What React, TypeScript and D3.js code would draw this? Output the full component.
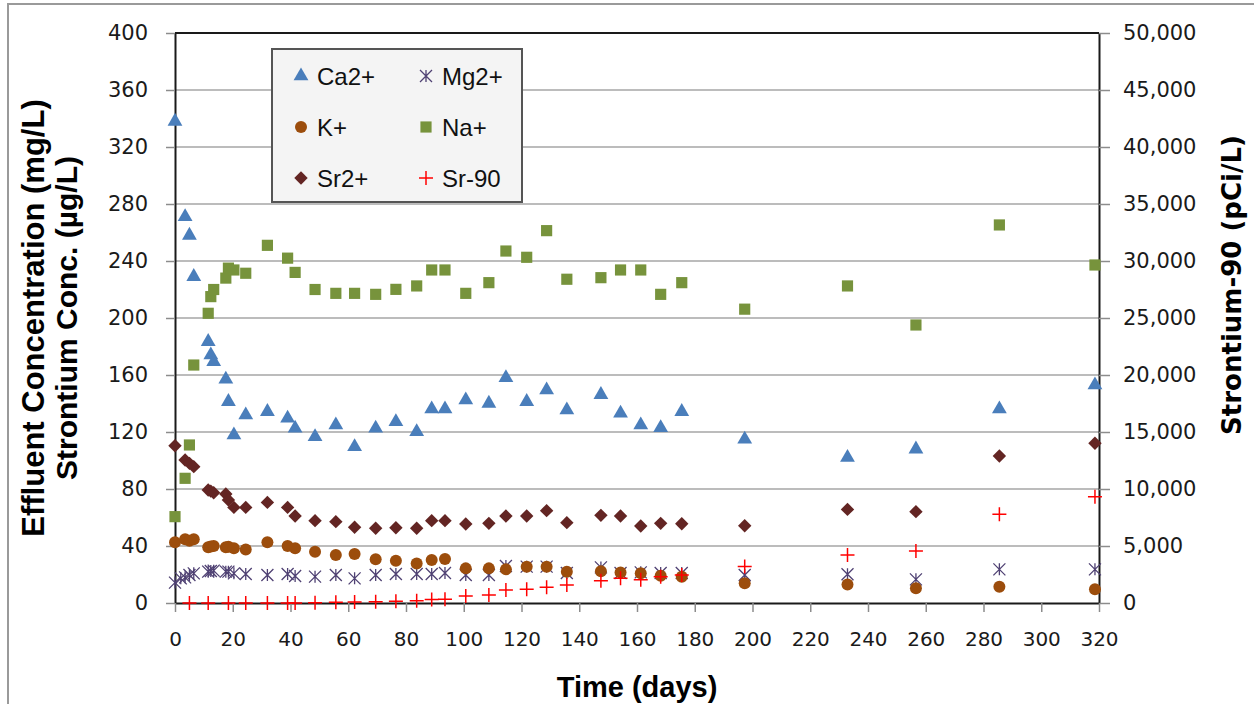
import React, { useEffect, useRef } from "react";
import * as d3 from "d3";

// sampling days (shared by every series)
const days = [0, 2, 3.5, 5, 6.5, 11.5, 12.4, 13.4, 17.6, 18.5, 20.4, 24.5, 32, 39, 41.6, 48.5, 55.7, 62.2, 69.5, 76.5, 83.7, 88.9, 93.5, 100.7, 108.7, 114.6, 121.8, 128.7, 135.7, 147.5, 154.3, 161.3, 168.2, 175.5, 197.3, 232.9, 256.6, 285.5, 318.6];

// mg/L (left axis)
const ca = [338, null, 271, 258, 229, 183.4, 174, 169.3, 157, 141.3, 117.9, 131.9, 134.3, 129.6, 122.6, 116.7, 124.9, 109.7, 122.6, 127.2, 120.2, 136.1, 136.1, 142.5, 140.1, 158.1, 141.3, 149.5, 135.4, 146.2, 133.1, 124.9, 123, 134.3, 114.9, 102.1, 108, 136.1, 153];
const mg = [14.3, 17.3, 18, 19.6, 20.8, 22, 22.4, 22.7, 22, 22, 20.8, 20.4, 19.6, 20.4, 19, 18.5, 19.6, 17.3, 19.6, 20.4, 20.4, 20.4, 21, 19.6, 19.6, 26, 25.5, 25.5, 21, 25, 21, 21.5, 21, 21, 19.6, 20.2, 16.6, 23.6, 23.6];
const k = [42.6, null, 44.7, 43.7, 44.7, 39.1, 39.6, 40, 39.1, 39.5, 38.4, 37.6, 42.6, 40, 38.4, 36, 33.7, 34.4, 30.7, 29.7, 27.8, 30.2, 30.9, 24.3, 24.3, 23.6, 25.5, 25.5, 22, 22.2, 21.4, 20.8, 19.2, 18.5, 13.8, 12.9, 10.3, 11.4, 9.6];
const na = [60.6, null, 87.5, 110.9, 167, 203.3, 215, 220, 228, 235, 233.7, 231.4, 251, 242, 232, 220, 217.3, 217.3, 216.6, 220.1, 222.5, 233.7, 233.7, 217.3, 224.8, 247, 242.6, 261.3, 227.2, 228.3, 233.7, 233.7, 216.6, 224.8, 206.2, 222.5, 195.1, 265.3, 237.2];
// µg/L (left axis)
const sr = [110.4, null, 100.4, 98, 95.7, 79.3, 78.5, 77.4, 76.5, 72.3, 67.1, 67.1, 70.6, 67.1, 61, 57.8, 57.1, 53.1, 52.4, 52.8, 52.4, 57.8, 57.8, 55.4, 55.9, 61, 61, 64.8, 56.4, 61.5, 61, 54, 55.9, 55.6, 54.2, 65.7, 64.1, 103.2, 112.1];
// pCi/L (right axis)
const sr90 = [null, null, null, 0, null, 0, null, null, null, 0, null, 0, 0, 0, 10, 20, 60, 90, 110, 150, 200, 300, 320, 620, 700, 1140, 1200, 1380, 1580, 1950, 2170, 2050, 2310, 2450, 3200, 4200, 4560, 7780, 9330];

const leftTicks = [0, 40, 80, 120, 160, 200, 240, 280, 320, 360, 400];
const rightTicks = [0, 5000, 10000, 15000, 20000, 25000, 30000, 35000, 40000, 45000, 50000];
const timeTicks = [0, 20, 40, 60, 80, 100, 120, 140, 160, 180, 200, 220, 240, 260, 280, 300, 320];

type Marker = "triangle" | "asterisk" | "circle" | "square" | "diamond" | "plus";
const series: { name: string; values: (number | null)[]; marker: Marker; color: string; right?: boolean }[] = [
    { name: "Ca2+", values: ca, marker: "triangle", color: "#4a7ebb" },
    { name: "Mg2+", values: mg, marker: "asterisk", color: "#4f4173" },
    { name: "K+", values: k, marker: "circle", color: "#9c4d0c" },
    { name: "Na+", values: na, marker: "square", color: "#77933c" },
    { name: "Sr2+", values: sr, marker: "diamond", color: "#632523" },
    { name: "Sr-90", values: sr90, marker: "plus", color: "#ff0000", right: true },
];

const NUM_FONT = "'DejaVu Sans', Verdana, sans-serif";
const TITLE_FONT = "'Liberation Sans', Arial, sans-serif";

function drawMarker(g: d3.Selection<SVGGElement, unknown, null, undefined>, m: Marker, color: string, cx: number, cy: number) {
    if (m === "triangle") {
        g.append("path").attr("d", d3.symbol(d3.symbolTriangle, 95)()).attr("transform", `translate(${cx},${cy})`).attr("fill", color);
    } else if (m === "square") {
        g.append("path").attr("d", d3.symbol(d3.symbolSquare, 125)()).attr("transform", `translate(${cx},${cy})`).attr("fill", color);
    } else if (m === "diamond") {
        g.append("path").attr("d", d3.symbol(d3.symbolSquare, 90)()).attr("transform", `translate(${cx},${cy}) rotate(45)`).attr("fill", color);
    } else if (m === "circle") {
        g.append("circle").attr("cx", cx).attr("cy", cy).attr("r", 6).attr("fill", color);
    } else if (m === "plus") {
        g.append("path").attr("d", `M${cx - 7},${cy}H${cx + 7}M${cx},${cy - 7}V${cy + 7}`).attr("stroke", color).attr("stroke-width", 1.5);
    } else {
        const r = 6;
        g.append("path")
            .attr("d", `M${cx - r},${cy - r}L${cx + r},${cy + r}M${cx - r},${cy + r}L${cx + r},${cy - r}M${cx},${cy - r}V${cy + r}`)
            .attr("stroke", color).attr("stroke-width", 1.3).attr("fill", "none");
    }
}

const App: React.FC = () => {
    const ref = useRef<SVGSVGElement>(null);

    useEffect(() => {
        if (!ref.current) return;
        const svg = d3.select(ref.current);
        svg.selectAll("*").remove();

        const left = 175, right = 1099, top = 33, bottom = 603;
        const x = d3.scaleLinear().domain([0, 320]).range([left, right]);
        const yL = d3.scaleLinear().domain([0, 400]).range([bottom, top]);
        const yR = d3.scaleLinear().domain([0, 50000]).range([bottom, top]);

        // outer chart frame
        svg.append("rect").attr("x", 8).attr("y", 4).attr("width", 1400).attr("height", 900)
            .attr("fill", "#fff").attr("stroke", "#9a9a9a").attr("stroke-width", 2);

        // gridlines
        svg.append("g").selectAll("line").data(leftTicks.slice(1, -1)).join("line")
            .attr("x1", left).attr("x2", right)
            .attr("y1", (d) => yL(d)).attr("y2", (d) => yL(d))
            .attr("stroke", "#a6a6a6").attr("stroke-width", 1.5);

        // axes
        const axL = svg.append("g").attr("transform", `translate(${left},0)`)
            .call(d3.axisLeft(yL).tickValues(leftTicks).tickSize(9).tickSizeOuter(0).tickPadding(18).tickFormat(d3.format("d")));
        const axR = svg.append("g").attr("transform", `translate(${right},0)`)
            .call(d3.axisRight(yR).tickValues(rightTicks).tickSize(11).tickSizeOuter(0).tickPadding(13).tickFormat(d3.format(",")));
        const axB = svg.append("g").attr("transform", `translate(0,${bottom})`)
            .call(d3.axisBottom(x).tickValues(timeTicks).tickSize(9).tickSizeOuter(0).tickPadding(20).tickFormat(d3.format("d")));
        [axL, axR, axB].forEach((a) => {
            a.select(".domain").attr("stroke", "#1a1a1a").attr("stroke-width", 2);
            a.selectAll(".tick line").attr("stroke", "#8c8c8c").attr("stroke-width", 1.5);
            a.selectAll("text").attr("fill", "#1a1a1a").style("font-family", NUM_FONT);
        });
        axL.selectAll("text").style("font-size", "21px");
        axR.selectAll("text").style("font-size", "21px");
        axB.selectAll("text").style("font-size", "20px");

        // top border
        svg.append("line").attr("x1", left).attr("x2", right).attr("y1", top).attr("y2", top)
            .attr("stroke", "#1a1a1a").attr("stroke-width", 2);

        // points
        const pts = svg.append("g");
        series.forEach((s) => {
            const y = s.right ? yR : yL;
            s.values.forEach((v, i) => {
                if (v == null) return;
                drawMarker(pts, s.marker, s.color, x(days[i]), y(v));
            });
        });

        // legend
        const lg = svg.append("g");
        lg.append("rect").attr("x", 272).attr("y", 49).attr("width", 250).attr("height", 153)
            .attr("fill", "#f4f4f4").attr("stroke", "#555").attr("stroke-width", 2);
        series.forEach((s, i) => {
            const col = i % 2, row = Math.floor(i / 2);
            const mx = 301 + col * 125, my = 76 + row * 51;
            drawMarker(lg, s.marker, s.color, mx, my);
            lg.append("text").attr("x", mx + 16).attr("y", my).attr("dy", "0.36em")
                .style("font-family", TITLE_FONT).style("font-size", "24px").attr("fill", "#111")
                .text(s.name);
        });

        // axis titles
        const title = (tx: number, ty: number, rot: number, txt: string, size: number, font = TITLE_FONT) =>
            svg.append("text").attr("transform", `translate(${tx},${ty}) rotate(${rot})`)
                .attr("text-anchor", "middle").style("font-family", font).style("font-weight", "bold")
                .style("font-size", `${size}px`).attr("fill", "#000").text(txt);
        title(44, 318, -90, "Effluent Concentration (mg/L)", 31);
        title(77, 318, -90, "Strontium Conc. (µg/L)", 30);
        title(1241, 285, -90, "Strontium-90 (pCi/L)", 26, NUM_FONT);
        title(637, 697, 0, "Time (days)", 29);

        return () => {
            svg.selectAll("*").remove();
        };
    }, []);

    return <svg ref={ref} width={1254} height={704} style={{ position: "absolute", left: 0, top: 0 }} />;
};

export default App;
